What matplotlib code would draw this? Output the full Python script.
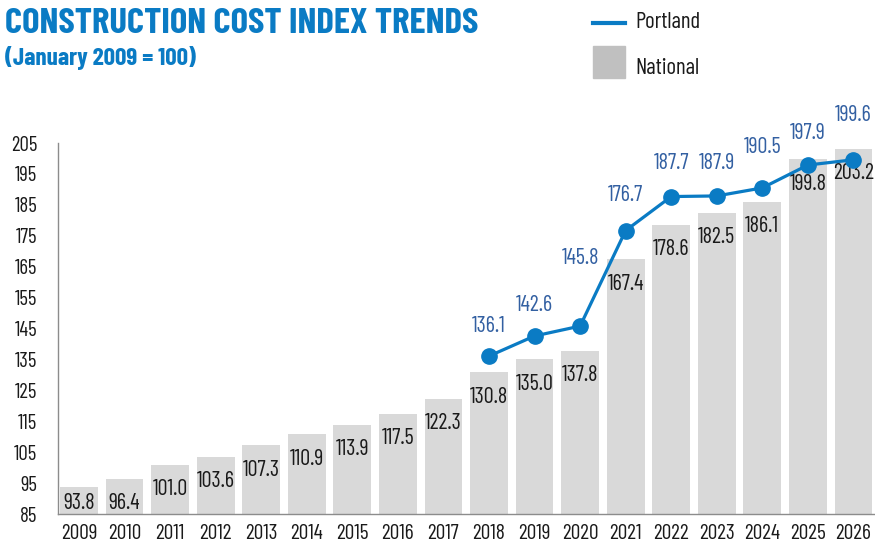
import matplotlib.pyplot as plt

years = [str(y) for y in range(2009, 2027)]
national = [93.8, 96.4, 101.0, 103.6, 107.3, 110.9, 113.9, 117.5, 122.3,
            130.8, 135.0, 137.8, 167.4, 178.6, 182.5, 186.1, 199.8, 203.2]
portland_years = [str(y) for y in range(2018, 2027)]
portland = [136.1, 142.6, 145.8, 176.7, 187.7, 187.9, 190.5, 197.9, 199.6]
yticks = list(range(85, 206, 10))

# how far (points) each Portland label sits above its marker, as in the original layout
label_lift = [21, 22, 49, 25, 24, 23, 29, 23, 32]

plt.rcParams['font.family'] = ['Barlow Condensed', 'DejaVu Sans']

BLUE = '#0a7bc4'
LABEL_BLUE = '#3360a2'
GREY = '#d9d9d9'
TEXT = '#1a1a1a'

fig = plt.figure(figsize=(8.75, 5.44), dpi=100)
ax = fig.add_axes([0.0663, 0.055, 0.933, 0.682])

x = list(range(len(years)))
ax.bar(x, national, width=0.83, color=GREY, zorder=1)
# label sits inside the bar near its top, but never below the floor of the bar
for xi, v in zip(x, national):
    ax.text(xi, max(v - 8.1, 88.5), f"{v:.1f}", ha='center', va='center',
            fontsize=16, color=TEXT, zorder=2)

px = [years.index(y) for y in portland_years]
ax.plot(px, portland, color=BLUE, lw=2.3, marker='o', ms=11, zorder=3, clip_on=False)
for xi, v, lift in zip(px, portland, label_lift):
    ax.annotate(f"{v:.1f}", (xi, v), xytext=(0, lift), textcoords='offset points',
                ha='center', va='center', fontsize=16, color=LABEL_BLUE,
                annotation_clip=False)

ax.set_xlim(-0.46, len(years) - 0.54)
ax.set_ylim(85, 205)
ax.set_yticks(yticks)
ax.set_yticklabels([str(t) for t in yticks], fontsize=15, color=TEXT)
ax.set_xticks(x)
ax.set_xticklabels(years, fontsize=15.5, color=TEXT)
ax.tick_params(length=0)
ax.tick_params(axis='x', pad=7)
ax.tick_params(axis='y', pad=15)
for s in ['top', 'right']:
    ax.spines[s].set_visible(False)
for s in ['left', 'bottom']:
    ax.spines[s].set_color('#8c8c8c')
    ax.spines[s].set_linewidth(1)

fig.text(0.006, 0.955, "CONSTRUCTION COST INDEX TRENDS", fontsize=26.5, fontweight='bold',
         color=BLUE, va='center', ha='left')
fig.text(0.006, 0.893, "(January 2009 = 100)", fontsize=18, fontweight='bold',
         color=BLUE, va='center', ha='left')

# legend drawn by hand
fig.add_artist(plt.Line2D([0.678, 0.714], [0.958, 0.958], color=BLUE, lw=3))
fig.text(0.726, 0.958, "Portland", fontsize=16.5, va='center', color=TEXT)
fig.add_artist(plt.Rectangle((0.678, 0.857), 0.036, 0.058, color='#c0c0c0'))
fig.text(0.726, 0.875, "National", fontsize=16.5, va='center', color=TEXT)

fig.savefig("out.png", dpi=100)
